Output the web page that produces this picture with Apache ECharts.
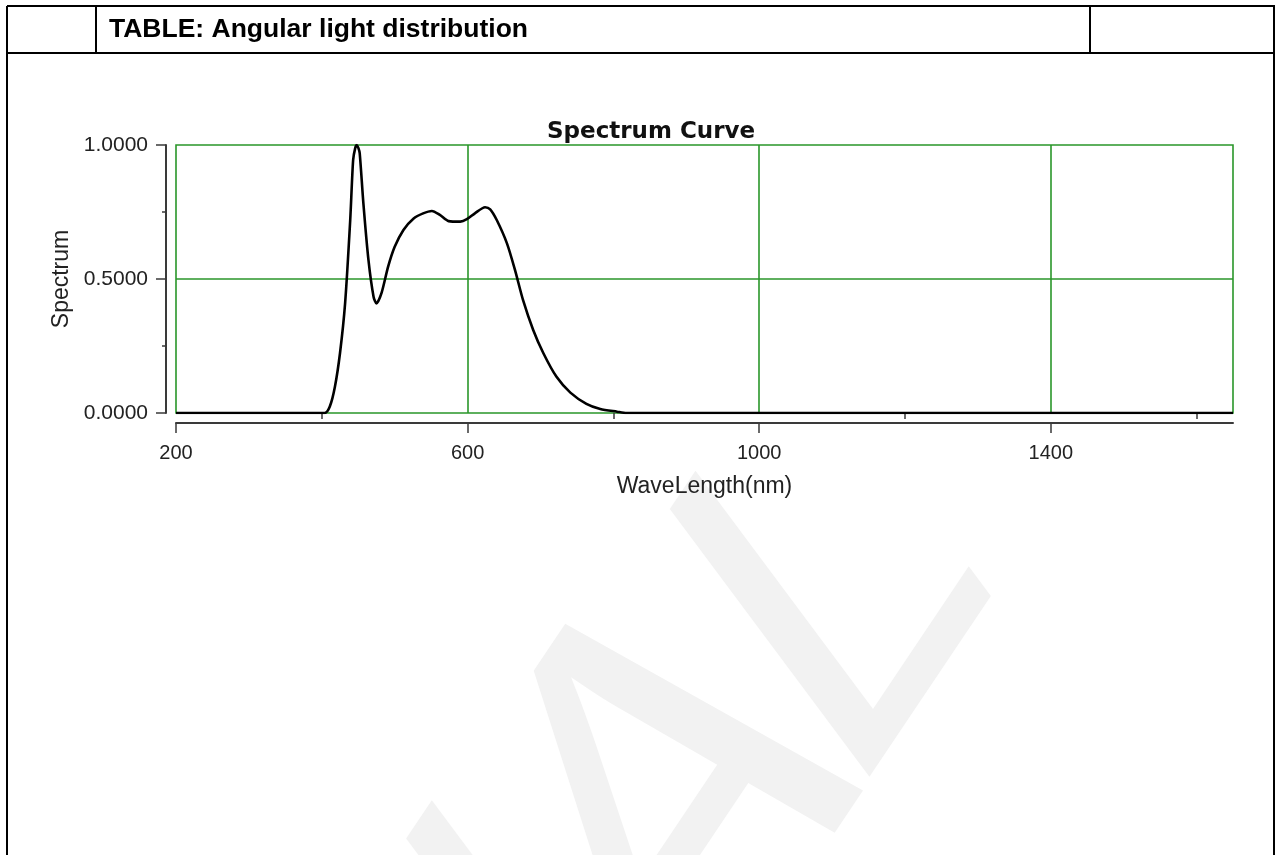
<!DOCTYPE html>
<html>
<head>
<meta charset="utf-8">
<script src="https://cdn.jsdelivr.net/npm/echarts@6/dist/echarts.min.js"></script>
<style>
html,body{margin:0;padding:0;background:#fff;}
#chart{width:1282px;height:855px;}
</style>
</head>
<body>
<div id="chart"></div>
<script>
// ---- data ----
var waveLength = [200, 404, 411, 418, 425, 432, 439, 443, 446, 448, 450, 452, 457, 464, 471, 475, 482, 491, 500, 512, 526, 539, 551, 562, 574, 590, 599, 610, 624, 631, 640, 654, 665, 676, 690, 704, 722, 741, 763, 782, 805, 818, 1650];
var spectrum   = [0, 0, 0.024, 0.098, 0.224, 0.41, 0.72, 0.944, 0.99, 1.0, 0.99, 0.97, 0.784, 0.571, 0.434, 0.409, 0.448, 0.546, 0.62, 0.683, 0.726, 0.745, 0.754, 0.739, 0.716, 0.714, 0.723, 0.745, 0.768, 0.76, 0.72, 0.633, 0.534, 0.422, 0.31, 0.223, 0.135, 0.076, 0.034, 0.015, 0.005, 0, 0];
var xMajorTicks = [200, 600, 1000, 1400];
var xMinorTicks = [400, 800, 1200, 1600];
var xGridLines = [600, 1000, 1400];
var yGridLines = [0.5];
var headerText = 'TABLE: Angular light distribution';
var chartTitle = 'Spectrum Curve';
var xName = 'WaveLength(nm)';
var yName = 'Spectrum';
var watermarkLetters = ['I', 'A', 'L'];

var points = waveLength.map(function (w, i) { return [w, spectrum[i]]; });

var GREEN = '#2a962a';
var AXIS = '#3a3a3a';
var FONT = '"Liberation Sans", Arial, sans-serif';

var chart = echarts.init(document.getElementById('chart'), null, {renderer: 'canvas'});

function hLine(x1, x2, y) {
  return {type: 'line', shape: {x1: x1, y1: y, x2: x2, y2: y}, style: {stroke: '#000', lineWidth: 2}, z: 10};
}
function vLine(x, y1, y2) {
  return {type: 'line', shape: {x1: x, y1: y1, x2: x, y2: y2}, style: {stroke: '#000', lineWidth: 2}, z: 10};
}

// faint watermark letters (positions in the un-stretched group space)
var wmPos = [[538.6, 693], [678, 581], [843.4, 416.6]];
var wmSize = [400, 432, 400];
var wmChildren = watermarkLetters.map(function (ch, i) {
  return {
    type: 'text', x: wmPos[i][0], y: wmPos[i][1], rotation: 0.8116,
    style: {text: ch, fill: '#f2f2f2', font: wmSize[i] + 'px "Liberation Sans", Arial, sans-serif',
      textAlign: 'center', textVerticalAlign: 'middle', align: 'center', verticalAlign: 'middle'}
  };
});

var gridLineData = xGridLines.map(function (v) { return {xAxis: v}; })
  .concat(yGridLines.map(function (v) { return {yAxis: v}; }));

chart.setOption({
  backgroundColor: '#fff',
  animation: false,
  title: {
    text: chartTitle,
    left: 547,
    top: 120,
    textStyle: {fontFamily: '"DejaVu Sans", Verdana, sans-serif', fontWeight: 'bold', fontSize: 23, color: '#111', lineHeight: 24},
    padding: 0
  },
  graphic: [
    {type: 'group', scaleY: 1.414, z: -10, silent: true, children: wmChildren},
    hLine(7, 1275, 6),
    hLine(7, 1275, 53),
    vLine(7, 6, 855),
    vLine(1274, 6, 855),
    vLine(96, 6, 53),
    vLine(1090, 6, 53),
    {
      type: 'text', x: 109, y: 30, z: 10,
      style: {text: headerText, fill: '#000', font: 'bold 26.5px "Liberation Sans", Arial, sans-serif',
        textAlign: 'left', textVerticalAlign: 'middle', align: 'left', verticalAlign: 'middle'}
    }
  ],
  grid: {
    left: 176, right: 49, top: 145, bottom: 442,
    show: true, borderColor: GREEN, borderWidth: 1.6, backgroundColor: 'transparent',
    containLabel: false
  },
  xAxis: [
    {
      type: 'value', min: 200, max: 1650, position: 'bottom', offset: 10,
      axisLine: {show: true, onZero: false, lineStyle: {color: AXIS, width: 2}},
      axisTick: {show: true, inside: false, length: 10, customValues: xMajorTicks, lineStyle: {color: AXIS, width: 1.5}},
      axisLabel: {show: true, customValues: xMajorTicks, margin: 20, fontSize: 20, fontFamily: FONT, color: '#222',
        formatter: function (v) { return String(v); }},
      splitLine: {show: false},
      name: xName, nameLocation: 'middle', nameGap: 52,
      nameTextStyle: {fontSize: 23, fontFamily: FONT, color: '#222'}
    },
    {
      type: 'value', min: 200, max: 1650, position: 'bottom', offset: 10,
      axisLine: {show: false},
      axisTick: {show: true, inside: false, length: 6, customValues: xMinorTicks, lineStyle: {color: AXIS, width: 1.5}},
      axisLabel: {show: false},
      splitLine: {show: false}
    }
  ],
  yAxis: {
    type: 'value', min: 0, max: 1, interval: 0.5, position: 'left', offset: 10,
    axisLine: {show: true, onZero: false, lineStyle: {color: AXIS, width: 2}},
    axisTick: {show: true, inside: false, length: 10, lineStyle: {color: AXIS, width: 1.5}},
    minorTick: {show: true, splitNumber: 2, length: 4, lineStyle: {color: AXIS, width: 1.5}},
    axisLabel: {
      show: true, margin: 18, fontSize: 21, fontFamily: FONT, color: '#222',
      formatter: function (v) { return v.toFixed(4); }
    },
    splitLine: {show: false},
    name: yName, nameLocation: 'middle', nameGap: 90, nameRotate: 90,
    nameTextStyle: {fontSize: 23, fontFamily: FONT, color: '#222'}
  },
  series: [
    {
      type: 'line', xAxisIndex: 0, data: [], z: 1, silent: true,
      color: GREEN,
      markLine: {
        silent: true, symbol: ['none', 'none'], z: 1, animation: false,
        label: {show: false},
        itemStyle: {color: GREEN},
        lineStyle: {color: GREEN, width: 1.6, type: 'solid', opacity: 1},
        emphasis: {disabled: true},
        data: gridLineData
      }
    },
    {
      type: 'line', xAxisIndex: 0, data: points, z: 3,
      showSymbol: false, symbol: 'none', smooth: 0.25,
      lineStyle: {color: '#000', width: 2.6},
      silent: true
    }
  ]
});
</script>
</body>
</html>
